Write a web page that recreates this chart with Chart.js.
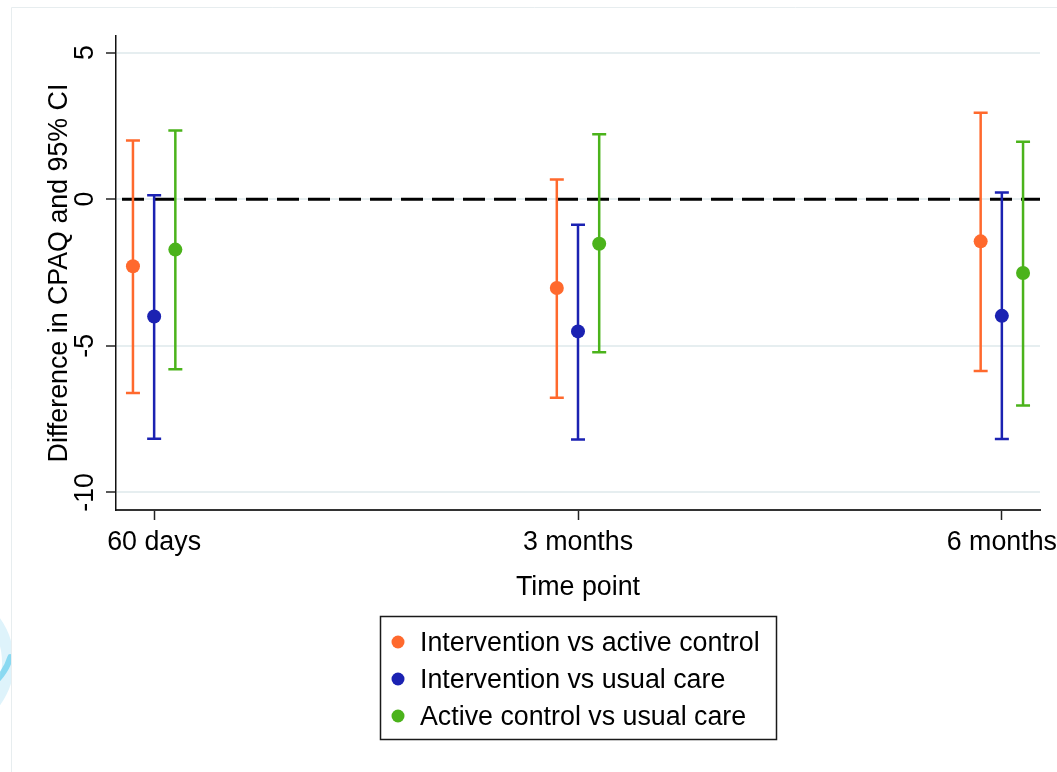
<!DOCTYPE html>
<html>
<head>
<meta charset="utf-8">
<title>Difference in CPAQ by time point</title>
<script src="https://cdn.jsdelivr.net/npm/chart.js@4/dist/chart.umd.min.js"></script>
<style>
  html, body { margin: 0; padding: 0; background: #ffffff; }
  #wrap { position: relative; width: 1057px; height: 772px; }
  canvas { display: block; }
</style>
</head>
<body>
<div id="wrap"><canvas id="chart" width="1057" height="772"></canvas></div>
<script>
// Time points on the x axis
const timePoints = ['60 days', '3 months', '6 months'];
const yTickValues = [-10, -5, 0, 5];

// Series labels
const seriesNames = [
  'Intervention vs active control',
  'Intervention vs usual care',
  'Active control vs usual care'
];

// Mean difference and 95% CI, per time point
const ivaEstimate = [-2.29, -3.03, -1.44];
const ivaLower    = [-6.61, -6.77, -5.86];
const ivaUpper    = [ 2.00,  0.67,  2.95];

const ivuEstimate = [-4.00, -4.51, -3.98];
const ivuLower    = [-8.17, -8.20, -8.18];
const ivuUpper    = [ 0.13, -0.87,  0.23];

const acuEstimate = [-1.72, -1.52, -2.52];
const acuLower    = [-5.80, -5.22, -7.04];
const acuUpper    = [ 2.34,  2.21,  1.96];

// Styling
const COLORS = ['#ff692d', '#1b22b2', '#4bb31b'];
const DODGE = [-0.05, 0, 0.05];
const FONT = '"Liberation Sans", Arial, Helvetica, sans-serif';
const FONT_SIZE = 26.8;

const estimates = [ivaEstimate, ivuEstimate, acuEstimate];
const lowers = [ivaLower, ivuLower, acuLower];
const uppers = [ivaUpper, ivuUpper, acuUpper];

const datasets = seriesNames.map((name, s) => ({
  label: name,
  data: timePoints.map((_, i) => ({ x: i + DODGE[s], y: estimates[s][i] })),
  lower: lowers[s],
  upper: uppers[s],
  dodge: DODGE[s],
  backgroundColor: COLORS[s],
  borderColor: COLORS[s],
  pointRadius: 7,
  pointHoverRadius: 7,
  pointBorderWidth: 0,
  showLine: false
}));

// Light frame and left-edge emblem behind everything
const backdrop = {
  id: 'backdrop',
  beforeDraw(chart) {
    const ctx = chart.ctx;
    ctx.save();
    ctx.fillStyle = '#ffffff';
    ctx.fillRect(0, 0, chart.width, chart.height);
    // emblem fragment
    ctx.beginPath();
    ctx.rect(0, 0, 11, chart.height);
    ctx.clip();
    ctx.lineCap = 'round';
    ctx.strokeStyle = 'rgba(190, 232, 248, 0.5)';
    ctx.lineWidth = 12;
    ctx.beginPath();
    ctx.arc(-60, 662, 68, -0.95, 0.95);
    ctx.stroke();
    ctx.strokeStyle = 'rgba(110, 208, 238, 0.75)';
    ctx.lineWidth = 6;
    ctx.beginPath();
    ctx.arc(-45, 640, 58, 0.3, 0.9);
    ctx.stroke();
    ctx.restore();

    ctx.save();
    ctx.strokeStyle = '#e7edef';
    ctx.lineWidth = 1;
    ctx.beginPath();
    ctx.moveTo(11.5, chart.height);
    ctx.lineTo(11.5, 7.5);
    ctx.lineTo(chart.width, 7.5);
    ctx.stroke();
    ctx.restore();
  }
};

// Zero reference line and confidence interval whiskers
const intervals = {
  id: 'intervals',
  beforeDatasetsDraw(chart) {
    const ctx = chart.ctx;
    const xs = chart.scales.x, ys = chart.scales.y;
    const area = chart.chartArea;
    ctx.save();
    ctx.strokeStyle = '#000000';
    ctx.lineWidth = 3;
    ctx.setLineDash([22, 9]);
    ctx.lineDashOffset = -6;
    const y0 = ys.getPixelForValue(0);
    ctx.beginPath();
    ctx.moveTo(area.left, y0);
    ctx.lineTo(area.right, y0);
    ctx.stroke();
    ctx.setLineDash([]);

    chart.data.datasets.forEach((ds) => {
      ctx.strokeStyle = ds.borderColor;
      ctx.lineWidth = 2.5;
      ds.lower.forEach((lo, i) => {
        const hi = ds.upper[i];
        const px = xs.getPixelForValue(i + ds.dodge);
        const pLo = ys.getPixelForValue(lo);
        const pHi = ys.getPixelForValue(hi);
        ctx.beginPath();
        ctx.moveTo(px, pLo);
        ctx.lineTo(px, pHi);
        ctx.moveTo(px - 7, pLo);
        ctx.lineTo(px + 7, pLo);
        ctx.moveTo(px - 7, pHi);
        ctx.lineTo(px + 7, pHi);
        ctx.stroke();
      });
    });
    ctx.restore();
  }
};

// Tick labels, axis titles and the boxed legend
const annotations = {
  id: 'annotations',
  afterDraw(chart) {
    const ctx = chart.ctx;
    const xs = chart.scales.x, ys = chart.scales.y;
    const area = chart.chartArea;
    ctx.save();
    ctx.fillStyle = '#000000';
    ctx.font = FONT_SIZE + 'px ' + FONT;
    ctx.textBaseline = 'alphabetic';
    ctx.textAlign = 'center';

    // x tick labels
    timePoints.forEach((lab, i) => {
      ctx.fillText(lab, xs.getPixelForValue(i), 550);
    });
    // x title
    ctx.fillText('Time point', (area.left + area.right) / 2, 595);

    // y tick labels, rotated
    yTickValues.forEach((v) => {
      ctx.save();
      ctx.translate(93, ys.getPixelForValue(v));
      ctx.rotate(-Math.PI / 2);
      ctx.fillText(String(v), 0, 0);
      ctx.restore();
    });
    // y title
    ctx.save();
    ctx.translate(67, (area.top + area.bottom) / 2);
    ctx.rotate(-Math.PI / 2);
    ctx.fillText('Difference in CPAQ and 95% CI', 0, 0);
    ctx.restore();

    // legend
    ctx.strokeStyle = '#1a1a1a';
    ctx.lineWidth = 1.5;
    ctx.strokeRect(380.5, 616.5, 396, 123);
    ctx.textAlign = 'left';
    chart.data.datasets.forEach((ds, s) => {
      const base = 651 + 37 * s;
      ctx.fillStyle = ds.backgroundColor;
      ctx.beginPath();
      ctx.arc(398, base - 9, 6.5, 0, Math.PI * 2);
      ctx.fill();
      ctx.fillStyle = '#000000';
      ctx.fillText(ds.label, 420, base);
    });
    ctx.restore();
  }
};

new Chart(document.getElementById('chart'), {
  type: 'scatter',
  data: { datasets },
  plugins: [backdrop, intervals, annotations],
  options: {
    responsive: false,
    animation: false,
    events: [],
    layout: { padding: { top: 36, right: 17, left: 0, bottom: 0 } },
    plugins: {
      legend: { display: false },
      tooltip: { enabled: false },
      title: { display: false }
    },
    scales: {
      x: {
        type: 'linear',
        min: -0.09,
        max: 2.09,
        afterBuildTicks(scale) {
          scale.ticks = timePoints.map((_, i) => ({ value: i }));
        },
        afterFit(scale) { scale.height = 262; },
        ticks: { display: false },
        grid: {
          drawOnChartArea: false,
          drawTicks: true,
          tickLength: 10,
          tickWidth: 1.5,
          tickColor: '#222222',
          color: 'rgba(0,0,0,0)'
        },
        border: { display: true, color: '#333333', width: 2 }
      },
      y: {
        type: 'linear',
        min: -10.6,
        max: 5.563,
        afterBuildTicks(scale) {
          scale.ticks = yTickValues.map((v) => ({ value: v }));
        },
        afterFit(scale) { scale.width = 116; },
        ticks: { display: false },
        grid: {
          color: '#e6eef0',
          lineWidth: 2,
          drawTicks: true,
          tickLength: 10,
          tickWidth: 1.5,
          tickColor: '#222222'
        },
        border: { display: true, color: '#111111', width: 1.5 }
      }
    }
  }
});
</script>
</body>
</html>
